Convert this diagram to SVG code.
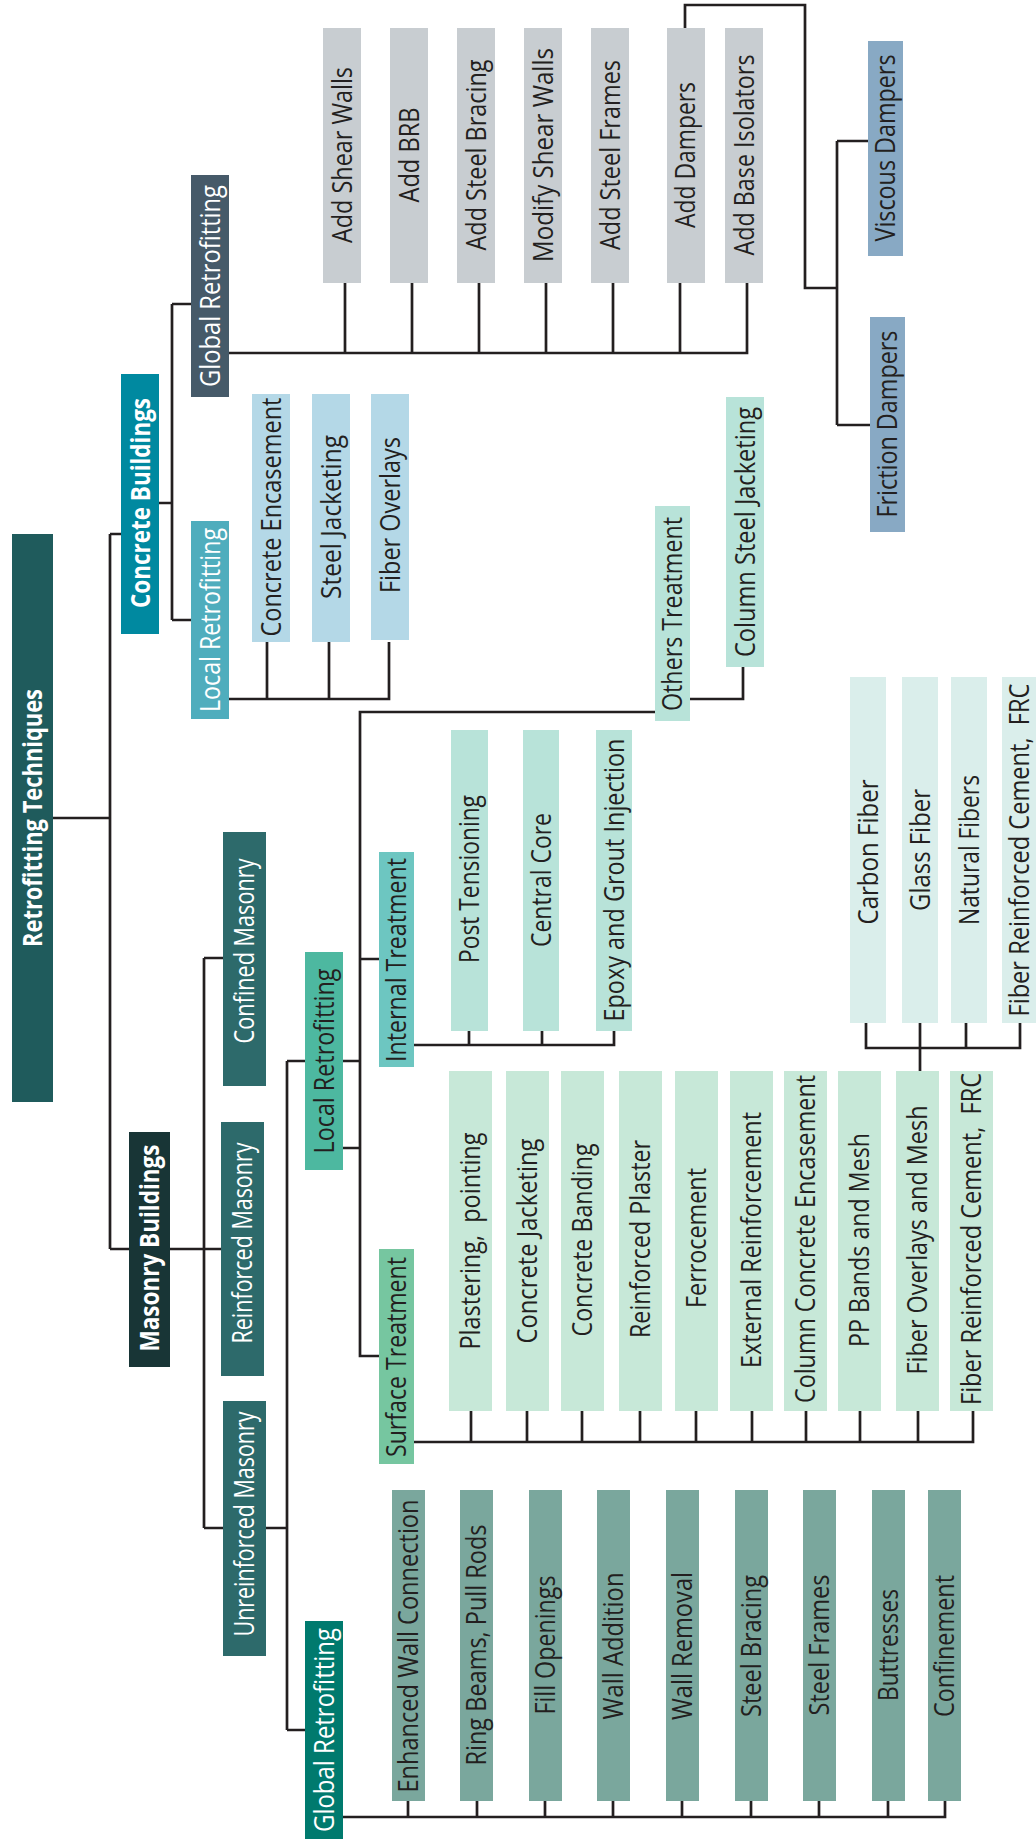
<svg xmlns="http://www.w3.org/2000/svg" width="1036" height="1841" viewBox="0 0 1036 1841">
<style>
.t{font-family:"Open Sans","Noto Sans","DejaVu Sans",sans-serif;font-size:27.5px;text-anchor:middle;fill:#231f20}
.w{fill:#ffffff}
.b{font-weight:bold}
.ln{fill:none;stroke:#231f20;stroke-width:2.7;stroke-linejoin:miter}
</style>
<rect width="1036" height="1841" fill="#ffffff"/>
<g id="connectors" class="ln">
<path d="M53,818 H110 M110,534 V1249 M110,534 H121 M110,1249 H129"/>
<path d="M159,503 H172 M172,304 V620 M172,304 H191 M172,620 H191"/>
<path d="M229,353 H747 V283 M345,283 V353 M412,283 V353 M479,283 V353 M546,283 V353 M613,283 V353 M680,283 V353"/>
<path d="M685,28 V5 H805 V288 H837 M837,141 V425 M837,141 H868 M837,425 H870"/>
<path d="M229,699 H389 V642 M267,642 V699 M329,642 V699"/>
<path d="M170,1249 H204 M204,958 V1528 M204,958 H223 M204,1249 H221 M204,1528 H223"/>
<path d="M266,1528 H287 M287,1061 V1730 M287,1061 H305 M287,1730 H305"/>
<path d="M343,1061 H360 M343,1148 H360 M379,1356 H360 V712 H655 M360,959 H379"/>
<path d="M690,699 H743 V667"/>
<path d="M414,1045 H614 V1031 M469,1031 V1045 M542,1031 V1045"/>
<path d="M414,1442 H973 V1411 M471,1411 V1442 M527,1411 V1442 M582,1411 V1442 M640,1411 V1442 M696,1411 V1442 M752,1411 V1442 M806,1411 V1442 M860,1411 V1442 M918,1411 V1442"/>
<path d="M920,1071 V1023 M866,1023 V1048 H1020 V1023 M966,1023 V1048"/>
<path d="M343,1817 H945 V1801 M408,1801 V1817 M477,1801 V1817 M545,1801 V1817 M613,1801 V1817 M682,1801 V1817 M751,1801 V1817 M819,1801 V1817 M888,1801 V1817"/>
</g>
<g id="root"><rect x="12" y="534" width="41" height="568" fill="#1f5b5c"/><text class="t w b" transform="translate(42,818) rotate(-90)" textLength="258" lengthAdjust="spacingAndGlyphs">Retrofitting Techniques</text></g>
<g id="concrete"><rect x="121" y="374" width="38" height="260" fill="#0089a0"/><text class="t w b" transform="translate(149.5,503) rotate(-90)" textLength="210" lengthAdjust="spacingAndGlyphs">Concrete Buildings</text></g>
<g id="c-global"><rect x="191" y="175" width="38" height="222" fill="#465a69"/><text class="t w" transform="translate(219.5,286) rotate(-90)" textLength="202" lengthAdjust="spacingAndGlyphs">Global Retrofitting</text></g>
<g id="c-local"><rect x="191" y="521" width="38" height="198" fill="#4fadbd"/><text class="t w" transform="translate(219.5,620) rotate(-90)" textLength="184" lengthAdjust="spacingAndGlyphs">Local Retrofitting</text></g>
<g id="cg1"><rect x="323" y="28" width="38" height="255" fill="#c8cdd1"/><text class="t" transform="translate(351.5,155) rotate(-90)" textLength="176" lengthAdjust="spacingAndGlyphs">Add Shear Walls</text></g>
<g id="cg2"><rect x="390" y="28" width="38" height="255" fill="#c8cdd1"/><text class="t" transform="translate(418.5,155) rotate(-90)" textLength="95" lengthAdjust="spacingAndGlyphs">Add BRB</text></g>
<g id="cg3"><rect x="457" y="28" width="38" height="255" fill="#c8cdd1"/><text class="t" transform="translate(485.5,155) rotate(-90)" textLength="191" lengthAdjust="spacingAndGlyphs">Add Steel Bracing</text></g>
<g id="cg4"><rect x="524" y="28" width="38" height="255" fill="#c8cdd1"/><text class="t" transform="translate(552.5,155) rotate(-90)" textLength="214" lengthAdjust="spacingAndGlyphs">Modify Shear Walls</text></g>
<g id="cg5"><rect x="591" y="28" width="38" height="255" fill="#c8cdd1"/><text class="t" transform="translate(619.5,155) rotate(-90)" textLength="190" lengthAdjust="spacingAndGlyphs">Add Steel Frames</text></g>
<g id="cg6"><rect x="667" y="28" width="38" height="255" fill="#c8cdd1"/><text class="t" transform="translate(694.5,155) rotate(-90)" textLength="146" lengthAdjust="spacingAndGlyphs">Add Dampers</text></g>
<g id="cg7"><rect x="725" y="28" width="38" height="255" fill="#c8cdd1"/><text class="t" transform="translate(753.5,155) rotate(-90)" textLength="201" lengthAdjust="spacingAndGlyphs">Add Base Isolators</text></g>
<g id="viscous"><rect x="868" y="41" width="35" height="215" fill="#88a9c4"/><text class="t" transform="translate(895,148) rotate(-90)" textLength="187" lengthAdjust="spacingAndGlyphs">Viscous Dampers</text></g>
<g id="friction"><rect x="870" y="317" width="35" height="215" fill="#88a9c4"/><text class="t" transform="translate(897,424) rotate(-90)" textLength="187" lengthAdjust="spacingAndGlyphs">Friction Dampers</text></g>
<g id="cl1"><rect x="252" y="394" width="38" height="248" fill="#b4d8e7"/><text class="t" transform="translate(280.5,517) rotate(-90)" textLength="239" lengthAdjust="spacingAndGlyphs">Concrete Encasement</text></g>
<g id="cl2"><rect x="312" y="394" width="38" height="248" fill="#b4d8e7"/><text class="t" transform="translate(340.5,517) rotate(-90)" textLength="164" lengthAdjust="spacingAndGlyphs">Steel Jacketing</text></g>
<g id="cl3"><rect x="371" y="394" width="38" height="246" fill="#b4d8e7"/><text class="t" transform="translate(399.5,515) rotate(-90)" textLength="156" lengthAdjust="spacingAndGlyphs">Fiber Overlays</text></g>
<g id="masonry"><rect x="129" y="1132" width="41" height="235" fill="#183536"/><text class="t w b" transform="translate(159,1248) rotate(-90)" textLength="207" lengthAdjust="spacingAndGlyphs">Masonry Buildings</text></g>
<g id="confined"><rect x="223" y="832" width="43" height="254" fill="#2d6a6b"/><text class="t w" transform="translate(254,951) rotate(-90)" textLength="185" lengthAdjust="spacingAndGlyphs">Confined Masonry</text></g>
<g id="reinforced"><rect x="221" y="1122" width="43" height="254" fill="#2d6a6b"/><text class="t w" transform="translate(252,1243) rotate(-90)" textLength="201" lengthAdjust="spacingAndGlyphs">Reinforced Masonry</text></g>
<g id="unreinforced"><rect x="223" y="1401" width="43" height="255" fill="#2d6a6b"/><text class="t w" transform="translate(254,1524) rotate(-90)" textLength="225" lengthAdjust="spacingAndGlyphs">Unreinforced Masonry</text></g>
<g id="m-local"><rect x="305" y="952" width="38" height="218" fill="#4db8a0"/><text class="t" transform="translate(333.5,1061) rotate(-90)" textLength="185" lengthAdjust="spacingAndGlyphs">Local Retrofitting</text></g>
<g id="m-global"><rect x="305" y="1621" width="38" height="218" fill="#007a6e"/><text class="t w" transform="translate(333.5,1730) rotate(-90)" textLength="204" lengthAdjust="spacingAndGlyphs">Global Retrofitting</text></g>
<g id="others"><rect x="655" y="506" width="35" height="215" fill="#b8e3d9"/><text class="t" transform="translate(682,614) rotate(-90)" textLength="194" lengthAdjust="spacingAndGlyphs">Others Treatment</text></g>
<g id="col-steel"><rect x="726" y="397" width="38" height="270" fill="#b8e3d9"/><text class="t" transform="translate(754.5,532) rotate(-90)" textLength="250" lengthAdjust="spacingAndGlyphs">Column Steel Jacketing</text></g>
<g id="internal"><rect x="379" y="852" width="35" height="215" fill="#6dc6c1"/><text class="t" transform="translate(406,960) rotate(-90)" textLength="204" lengthAdjust="spacingAndGlyphs">Internal Treatment</text></g>
<g id="it1"><rect x="451" y="730" width="37" height="301" fill="#b8e3d9"/><text class="t" transform="translate(479,879) rotate(-90)" textLength="168" lengthAdjust="spacingAndGlyphs">Post Tensioning</text></g>
<g id="it2"><rect x="523" y="730" width="36" height="301" fill="#b8e3d9"/><text class="t" transform="translate(550.5,880) rotate(-90)" textLength="134" lengthAdjust="spacingAndGlyphs">Central Core</text></g>
<g id="it3"><rect x="596" y="730" width="36" height="301" fill="#b8e3d9"/><text class="t" transform="translate(623.5,880) rotate(-90)" textLength="283" lengthAdjust="spacingAndGlyphs">Epoxy and Grout Injection</text></g>
<g id="surface"><rect x="379" y="1249" width="35" height="215" fill="#76c6a0"/><text class="t" transform="translate(406,1357) rotate(-90)" textLength="200" lengthAdjust="spacingAndGlyphs">Surface Treatment</text></g>
<g id="s1"><rect x="449" y="1071" width="43" height="340" fill="#c7e8d8"/><text class="t" xml:space="preserve" transform="translate(480,1241) rotate(-90)" textLength="217" lengthAdjust="spacingAndGlyphs">Plastering,  pointing</text></g>
<g id="s2"><rect x="506" y="1071" width="43" height="340" fill="#c7e8d8"/><text class="t" transform="translate(537,1241) rotate(-90)" textLength="205" lengthAdjust="spacingAndGlyphs">Concrete Jacketing</text></g>
<g id="s3"><rect x="561" y="1071" width="43" height="340" fill="#c7e8d8"/><text class="t" transform="translate(592,1240) rotate(-90)" textLength="193" lengthAdjust="spacingAndGlyphs">Concrete Banding</text></g>
<g id="s4"><rect x="619" y="1071" width="43" height="340" fill="#c7e8d8"/><text class="t" transform="translate(650,1239) rotate(-90)" textLength="198" lengthAdjust="spacingAndGlyphs">Reinforced Plaster</text></g>
<g id="s5"><rect x="675" y="1071" width="43" height="340" fill="#c7e8d8"/><text class="t" transform="translate(706,1238) rotate(-90)" textLength="140" lengthAdjust="spacingAndGlyphs">Ferrocement</text></g>
<g id="s6"><rect x="730" y="1071" width="43" height="340" fill="#c7e8d8"/><text class="t" transform="translate(761,1240) rotate(-90)" textLength="256" lengthAdjust="spacingAndGlyphs">External Reinforcement</text></g>
<g id="s7"><rect x="784" y="1071" width="43" height="340" fill="#c7e8d8"/><text class="t" transform="translate(815,1239) rotate(-90)" textLength="328" lengthAdjust="spacingAndGlyphs">Column Concrete Encasement</text></g>
<g id="s8"><rect x="838" y="1071" width="43" height="340" fill="#c7e8d8"/><text class="t" transform="translate(869,1240) rotate(-90)" textLength="214" lengthAdjust="spacingAndGlyphs">PP Bands and Mesh</text></g>
<g id="s9"><rect x="896" y="1071" width="43" height="340" fill="#c7e8d8"/><text class="t" transform="translate(927,1240) rotate(-90)" textLength="269" lengthAdjust="spacingAndGlyphs">Fiber Overlays and Mesh</text></g>
<g id="s10"><rect x="950" y="1071" width="43" height="340" fill="#c7e8d8"/><text class="t" xml:space="preserve" transform="translate(981,1239) rotate(-90)" textLength="332" lengthAdjust="spacingAndGlyphs">Fiber Reinforced Cement,  FRC</text></g>
<g id="f1"><rect x="850" y="677" width="36" height="346" fill="#daeeeb"/><text class="t" transform="translate(877.5,852) rotate(-90)" textLength="145" lengthAdjust="spacingAndGlyphs">Carbon Fiber</text></g>
<g id="f2"><rect x="902" y="677" width="36" height="346" fill="#daeeeb"/><text class="t" transform="translate(929.5,850) rotate(-90)" textLength="122" lengthAdjust="spacingAndGlyphs">Glass Fiber</text></g>
<g id="f3"><rect x="951" y="677" width="36" height="346" fill="#daeeeb"/><text class="t" transform="translate(978.5,850) rotate(-90)" textLength="150" lengthAdjust="spacingAndGlyphs">Natural Fibers</text></g>
<g id="f4"><rect x="1002" y="677" width="36" height="346" fill="#daeeeb"/><text class="t" xml:space="preserve" transform="translate(1028.5,850) rotate(-90)" textLength="333" lengthAdjust="spacingAndGlyphs">Fiber Reinforced Cement,  FRC</text></g>
<g id="g1"><rect x="392" y="1490" width="33" height="311" fill="#7aa79d"/><text class="t" transform="translate(418,1646) rotate(-90)" textLength="293" lengthAdjust="spacingAndGlyphs">Enhanced Wall Connection</text></g>
<g id="g2"><rect x="460" y="1490" width="33" height="311" fill="#7aa79d"/><text class="t" transform="translate(486,1645) rotate(-90)" textLength="241" lengthAdjust="spacingAndGlyphs">Ring Beams, Pull Rods</text></g>
<g id="g3"><rect x="529" y="1490" width="33" height="311" fill="#7aa79d"/><text class="t" transform="translate(555,1645) rotate(-90)" textLength="139" lengthAdjust="spacingAndGlyphs">Fill Openings</text></g>
<g id="g4"><rect x="597" y="1490" width="33" height="311" fill="#7aa79d"/><text class="t" transform="translate(623,1646) rotate(-90)" textLength="147" lengthAdjust="spacingAndGlyphs">Wall Addition</text></g>
<g id="g5"><rect x="666" y="1490" width="33" height="311" fill="#7aa79d"/><text class="t" transform="translate(692,1646) rotate(-90)" textLength="148" lengthAdjust="spacingAndGlyphs">Wall Removal</text></g>
<g id="g6"><rect x="735" y="1490" width="33" height="311" fill="#7aa79d"/><text class="t" transform="translate(761,1646) rotate(-90)" textLength="142" lengthAdjust="spacingAndGlyphs">Steel Bracing</text></g>
<g id="g7"><rect x="803" y="1490" width="33" height="311" fill="#7aa79d"/><text class="t" transform="translate(829,1645) rotate(-90)" textLength="141" lengthAdjust="spacingAndGlyphs">Steel Frames</text></g>
<g id="g8"><rect x="872" y="1490" width="33" height="311" fill="#7aa79d"/><text class="t" transform="translate(898,1645) rotate(-90)" textLength="112" lengthAdjust="spacingAndGlyphs">Buttresses</text></g>
<g id="g9"><rect x="928" y="1490" width="33" height="311" fill="#7aa79d"/><text class="t" transform="translate(954,1646) rotate(-90)" textLength="142" lengthAdjust="spacingAndGlyphs">Confinement</text></g>
</svg>
